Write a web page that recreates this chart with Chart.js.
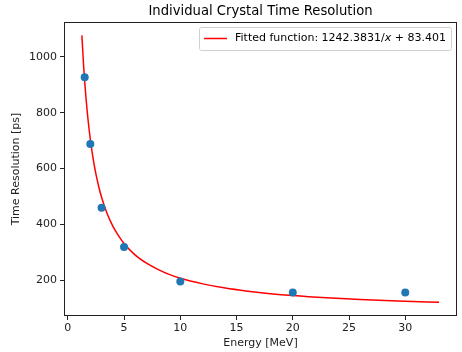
<!DOCTYPE html>
<html><head><meta charset="utf-8">
<script src="https://cdn.jsdelivr.net/npm/chart.js@4"></script>
<style>html,body{margin:0;padding:0;background:#fff}#w{width:462px;height:352px}</style>
</head><body><div id="w"><canvas id="c" width="462" height="352"></canvas></div>
<script>
const energy = [1.5, 2, 3, 5, 10, 20, 30];
const resolution = [927, 688, 460, 319, 196, 156, 156];
const fitEnergy = [1.25, 1.4, 1.6, 1.8, 2, 2.25, 2.5, 2.75, 3, 3.5, 4, 4.5, 5, 6, 7, 8, 9, 10, 12, 14, 16, 18, 20, 23, 26, 30, 33];
const fitResolution = [1077, 971, 860, 774, 705, 636, 580, 535, 497, 438, 394, 360, 332, 290, 261, 239, 221, 207, 187, 172, 161, 152, 145, 137, 131, 125, 121];
const xTicks = [0, 5, 10, 15, 20, 25, 30];
const yTicks = [200, 400, 600, 800, 1000];
const titleText = 'Individual Crystal Time Resolution';
const legendText = 'Fitted function: 1242.3831/x + 83.401';
const F = 'DejaVu Sans';
const FS = 11;

const framePlugin = {
  id: 'frame',
  afterDraw(chart) {
    const ctx = chart.ctx, a = chart.chartArea;
    ctx.save();
    ctx.strokeStyle = '#222'; ctx.lineWidth = 1;
    ctx.strokeRect(Math.round(a.left) + 0.5, Math.round(a.top) + 0.5, Math.round(a.right - a.left) - 1, Math.round(a.bottom - a.top) - 1);
    // title
    ctx.fillStyle = '#000'; ctx.font = '13.2px "' + F + '"';
    ctx.textAlign = 'center'; ctx.textBaseline = 'middle';
    ctx.fillText(titleText, (a.left + a.right) / 2, 11.5);
    // legend
    const bx = 199, by = 27, bw = 252, bh = 23;
    ctx.fillStyle = 'rgba(255,255,255,0.8)';
    ctx.strokeStyle = '#d0d0d0';
    ctx.beginPath();
    if (ctx.roundRect) ctx.roundRect(bx + 0.5, by + 0.5, bw, bh, 2); else ctx.rect(bx + 0.5, by + 0.5, bw, bh);
    ctx.fill(); ctx.stroke();
    ctx.strokeStyle = 'red'; ctx.lineWidth = 1.5;
    ctx.beginPath(); ctx.moveTo(204, 38.5); ctx.lineTo(227, 38.5); ctx.stroke();
    ctx.fillStyle = '#000'; ctx.textAlign = 'left'; ctx.textBaseline = 'middle';
    ctx.font = FS + 'px "' + F + '"';
    const i = legendText.indexOf('/x');
    const p1 = legendText.slice(0, i + 1), p3 = legendText.slice(i + 2);
    let x = 235;
    ctx.fillText(p1, x, 38.5); x += ctx.measureText(p1).width;
    ctx.font = 'italic ' + FS + 'px "' + F + '"';
    ctx.fillText('x', x, 38.5); x += ctx.measureText('x').width;
    ctx.font = FS + 'px "' + F + '"';
    ctx.fillText(p3, x, 38.5);
    ctx.restore();
  }
};

new Chart(document.getElementById('c'), {
  type: 'scatter',
  data: {
    datasets: [
      {
        label: legendText,
        data: fitEnergy.map((v, i) => ({x: v, y: fitResolution[i]})),
        showLine: true, borderColor: 'red', borderWidth: 1.5, pointRadius: 0,
        cubicInterpolationMode: 'monotone', order: 2
      },
      {
        label: 'data',
        data: energy.map((v, i) => ({x: v, y: resolution[i]})),
        backgroundColor: '#1f77b4', borderColor: '#1f77b4', pointRadius: 4, pointBorderWidth: 0, order: 1
      }
    ]
  },
  options: {
    responsive: false, animation: false, devicePixelRatio: 1,
    layout: {padding: {left: 0, right: 5, top: 22, bottom: 0}},
    plugins: {legend: {display: false}, title: {display: false}, tooltip: {enabled: false}},
    scales: {
      x: {
        type: 'linear', min: -0.34, max: 34.6,
        afterBuildTicks: s => { s.ticks = xTicks.map(v => ({value: v})); },
        afterFit: s => { s.height = 36; },
        grid: {drawOnChartArea: false, drawTicks: true, tickLength: 4, color: '#222'},
        border: {display: false},
        ticks: {color: '#222', font: {family: F, size: FS}, padding: 2, maxRotation: 0, callback: v => String(v)},
        title: {display: true, text: 'Energy [MeV]', color: '#222', font: {family: F, size: FS}, padding: {top: 0, bottom: 2}}
      },
      y: {
        type: 'linear', min: 72, max: 1125,
        afterBuildTicks: s => { s.ticks = yTicks.map(v => ({value: v})); },
        afterFit: s => { s.width = 64; },
        grid: {drawOnChartArea: false, drawTicks: true, tickLength: 4, color: '#222'},
        border: {display: false},
        ticks: {color: '#222', font: {family: F, size: FS}, padding: 3, callback: v => String(v)},
        title: {display: true, text: 'Time Resolution [ps]', color: '#222', font: {family: F, size: FS}, padding: {top: 10, bottom: 0}}
      }
    }
  },
  plugins: [framePlugin]
});
</script></body></html>
